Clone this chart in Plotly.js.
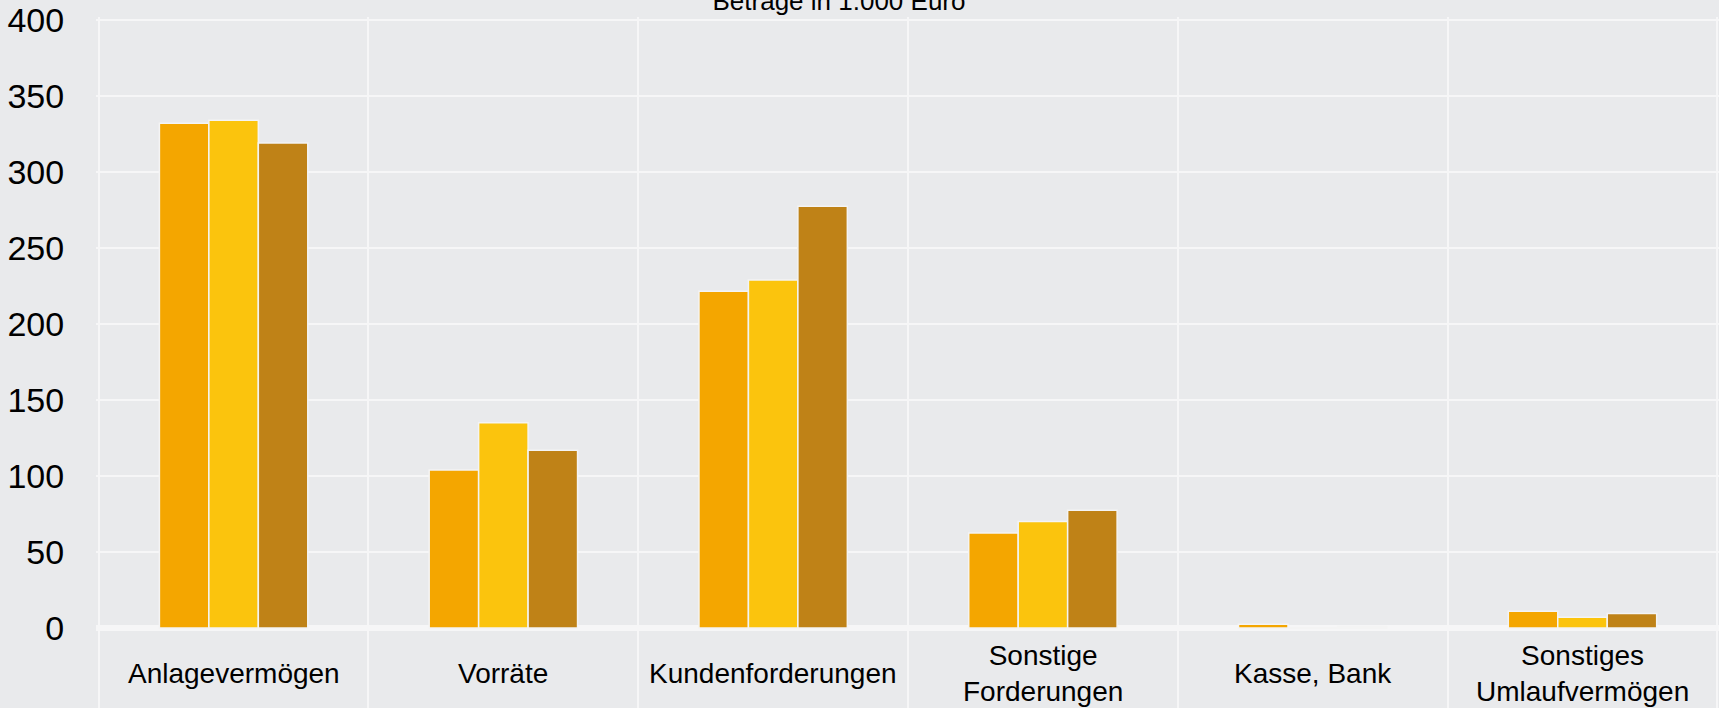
<!DOCTYPE html>
<html>
<head>
<meta charset="utf-8">
<script src="https://cdn.plot.ly/plotly-3.0.1.min.js"></script>
<style>
  html, body { margin: 0; padding: 0; background: #E9EAEC; }
  #chart { width: 1719px; height: 708px; }
</style>
</head>
<body>
<div id="chart"></div>
<script>
// ---- data ----
const categories = ["Anlagevermögen", "Vorräte", "Kundenforderungen", "Sonstige Forderungen", "Kasse, Bank", "Sonstiges Umlaufvermögen"];
const categoryLabels = ["Anlagevermögen", "Vorräte", "Kundenforderungen", "Sonstige<br>Forderungen", "Kasse, Bank", "Sonstiges<br>Umlaufvermögen"];
const seriesNames = ["Jahr 1", "Jahr 2", "Jahr 3"];
const series1 = [332, 104, 221.5, 62.5, 2.5, 11];
const series2 = [334, 135, 229, 70, 0, 7];
const series3 = [319, 117, 277.5, 77.5, 1, 9.5];
const yTickVals = [0, 50, 100, 150, 200, 250, 300, 350, 400];
const titleText = "Beträge in 1.000 Euro";

// ---- styles ----
const colors = ["#F4A600", "#FBC40D", "#BF8217"];
const bg = "#E9EAEC";
const gridCol = "#F6F6F7";
const fontFam = "'Liberation Sans', Arial, sans-serif";

const allSeries = [series1, series2, series3];
const traces = allSeries.map((vals, i) => ({
  type: "bar",
  name: seriesNames[i],
  x: categories,
  y: vals,
  marker: { color: colors[i], line: { color: "#F4F4F4", width: 1.5 } },
  hoverinfo: "x+y+name"
}));

const pxPerUnit = 1.52;
const layout = {
  width: 1719,
  height: 708,
  margin: { l: 96, r: 0, t: 17, b: 0, pad: 0 },
  paper_bgcolor: bg,
  plot_bgcolor: bg,
  showlegend: false,
  barmode: "group",
  bargap: 0.45,
  bargroupgap: 0,
  font: { family: fontFam, color: "#000000" },
  title: {
    text: titleText,
    font: { family: fontFam, size: 26, color: "#000000" },
    xref: "container", yref: "container",
    x: 839 / 1719, xanchor: "center",
    y: 1 - 10 / 708, yanchor: "bottom"
  },
  xaxis: {
    type: "category",
    categoryorder: "array",
    categoryarray: categories,
    range: [-0.51, 5.506],
    tickson: "boundaries",
    showgrid: true,
    gridcolor: gridCol,
    gridwidth: 2,
    showticklabels: false,
    ticks: "",
    showline: false,
    zeroline: false,
    fixedrange: true
  },
  yaxis: {
    range: [-80 / pxPerUnit, 400 + 3 / pxPerUnit],
    tickmode: "array",
    tickvals: yTickVals,
    ticktext: yTickVals.map(String),
    showgrid: true,
    gridcolor: gridCol,
    gridwidth: 2,
    zeroline: true,
    zerolinecolor: gridCol,
    zerolinewidth: 6,
    showline: false,
    ticks: "outside",
    ticklen: 24,
    tickcolor: "rgba(0,0,0,0)",
    tickfont: { family: fontFam, size: 34, color: "#000000" },
    fixedrange: true
  },
  annotations: categories.map((c, i) => ({
    x: c,
    xref: "x",
    y: -30,
    yref: "y",
    text: categoryLabels[i],
    showarrow: false,
    xanchor: "center",
    yanchor: "middle",
    align: "center",
    font: { family: fontFam, size: 28, color: "#000000" }
  }))
};

Plotly.newPlot("chart", traces, layout, { displayModeBar: false, staticPlot: true });
</script>
</body>
</html>
